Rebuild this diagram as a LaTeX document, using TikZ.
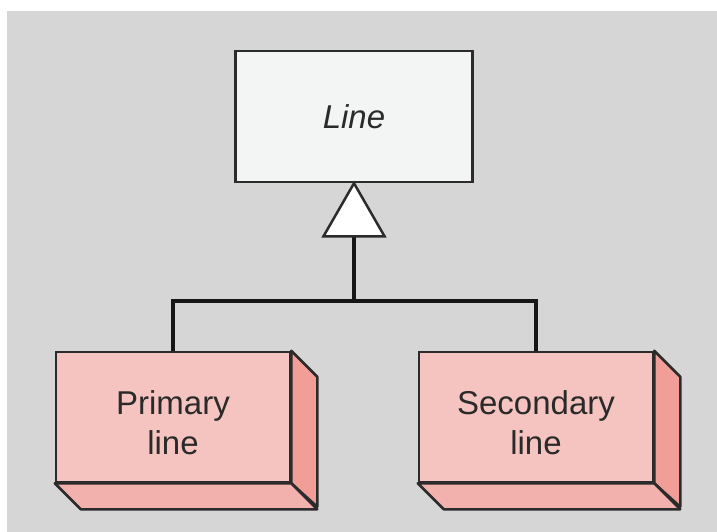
\documentclass[tikz,border=0pt]{standalone}
\usepackage{fontspec}
\setmainfont{Liberation Sans}
\usetikzlibrary{calc}
\definecolor{bggray}{HTML}{D6D6D6}
\definecolor{classfill}{HTML}{F3F4F4}
\definecolor{frontface}{HTML}{F5C4C0}
\definecolor{sideface}{HTML}{F09E97}
\definecolor{bottomface}{HTML}{F2B1AD}
\definecolor{edge}{HTML}{2B2B2B}
\definecolor{wire}{HTML}{161616}
\definecolor{txt}{HTML}{2A2A2A}
\tikzset{
  classbox/.style={draw=edge, line width=2.5pt, fill=classfill,
    minimum width=237pt, minimum height=131pt, inner sep=0pt,
    font=\fontsize{33}{40}\selectfont\itshape, text=txt},
  blockbox/.style={draw=edge, line width=2.5pt, fill=frontface,
    minimum width=234pt, minimum height=130pt, inner sep=0pt},
  blocklabel/.style={align=center, inner sep=0pt,
    font=\fontsize{33}{40}\selectfont, text=txt},
  facet/.style={draw=edge, line width=2.5pt, line join=round},
  link/.style={draw=wire, line width=4.2pt},
}
\begin{document}
\begin{tikzpicture}[x=1pt,y=-1pt]
  \useasboundingbox (0,0) rectangle (717,532);
  \fill[bggray] (7,11) rectangle (717,532);

  % abstract class
  \node[classbox] (line) at (354,116.5) {Line};

  % concrete blocks (front faces)
  \node[blockbox] (prim) at (173,417) {};
  \node[blockbox] (sec)  at (536,417) {};
  \node[blocklabel] (primtext) at ($(prim.center)+(0,6)$) {Primary\\line};
  \node[blocklabel] (sectext)  at ($(sec.center)+(0,6)$)  {Secondary\\line};

  % extruded side and bottom faces
  \foreach \b in {prim,sec}{
    \draw[facet, fill=sideface] (\b.north east) -- ++(26,26) -- ++(0,130)
      -- (\b.south east) -- cycle;
    \draw[facet, fill=bottomface] (\b.south west) -- (\b.south east)
      -- ++(26,26) -- ($(\b.south west)+(26,26)$) -- cycle;
  }

  % generalisation connectors
  \coordinate (join) at ($(line.south)+(0,118)$);
  \coordinate (tribase) at ($(line.south)+(0,53)$);
  \draw[link] (prim.north) -- (prim.north |- join) -- (sec.north |- join) -- (sec.north);
  \draw[link] (join) -- (tribase);
  \draw[facet, fill=white, line join=miter] (line.south) -- ++(-30.5,53) -- ++(61,0) -- cycle;
\end{tikzpicture}
\end{document}
